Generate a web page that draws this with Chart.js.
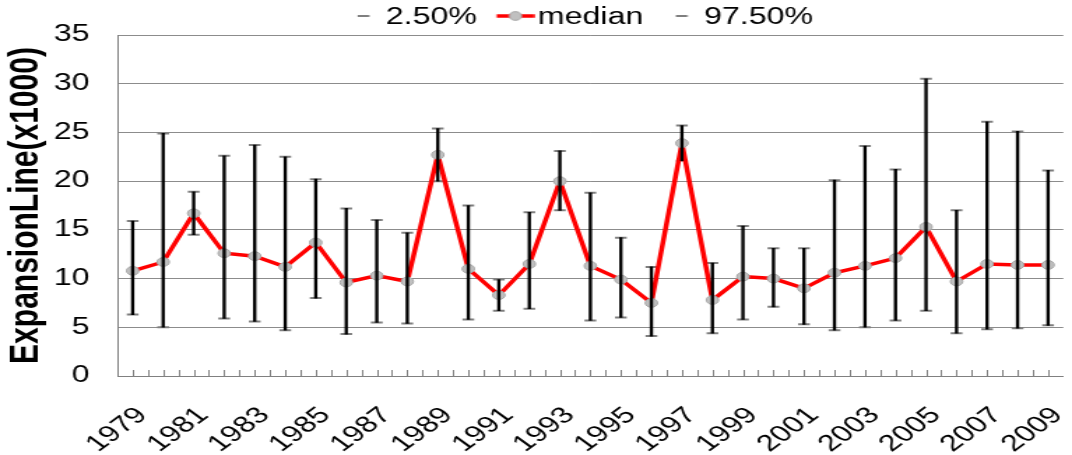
<!DOCTYPE html>
<html>
<head>
<meta charset="utf-8">
<script src="https://cdn.jsdelivr.net/npm/chart.js@4.4.0/dist/chart.umd.min.js"></script>
<style>
  html, body { margin: 0; padding: 0; background: #fff; }
  /* the source picture is stretched sideways, so draw narrow and widen with css */
  #chart { display: block; width: 1072px !important; height: 455px !important; }
</style>
</head>
<body>
<canvas id="chart" width="767" height="455" style="width:1072px;height:455px"></canvas>
<script>
const years = [1979, 1980, 1981, 1982, 1983, 1984, 1985, 1986, 1987, 1988,
  1989, 1990, 1991, 1992, 1993, 1994, 1995, 1996, 1997, 1998,
  1999, 2000, 2001, 2002, 2003, 2004, 2005, 2006, 2007, 2008, 2009];

const low = [6.3, 5.0, 14.5, 5.9, 5.6, 4.7, 8.0, 4.3, 5.5, 5.4,
  20.0, 5.8, 6.7, 6.9, 17.0, 5.7, 6.0, 4.1, 22.1, 4.4,
  5.8, 7.1, 5.3, 4.7, 5.0, 5.7, 6.7, 4.4, 4.8, 4.9, 5.2];

const median = [10.8, 11.7, 16.7, 12.6, 12.3, 11.2, 13.7, 9.6, 10.3, 9.7,
  22.7, 11.0, 8.3, 11.5, 20.0, 11.3, 9.9, 7.5, 23.9, 7.8,
  10.2, 10.0, 9.0, 10.6, 11.3, 12.1, 15.3, 9.7, 11.5, 11.4, 11.4];

const high = [15.9, 24.9, 18.9, 22.6, 23.7, 22.5, 20.2, 17.2, 16.0, 14.7,
  25.4, 17.5, 9.9, 16.8, 23.1, 18.8, 14.2, 11.2, 25.7, 11.6,
  15.4, 13.1, 13.1, 20.1, 23.6, 21.2, 30.5, 17.0, 26.1, 25.1, 21.1];

const yMin = 0;
const yMax = 35;
const yStep = 5;

const font = "'Liberation Sans', Arial, sans-serif";
const capGray = "#7f7f7f";

// legend marks are small canvases, mark sits right of the image centre
function legendMark(draw) {
  const c = document.createElement("canvas");
  c.width = 44;
  c.height = 16;
  const g = c.getContext("2d");
  g.translate(30.25, 6);
  draw(g);
  return c;
}

const capMark = legendMark((g) => {
  g.fillStyle = capGray;
  g.fillRect(-4.2, -1, 8.4, 2);
});

const medianMark = legendMark((g) => {
  g.strokeStyle = "#ff0000";
  g.lineWidth = 3.5;
  g.beginPath();
  g.moveTo(-13.5, 0);
  g.lineTo(13.5, 0);
  g.stroke();
  g.beginPath();
  g.arc(0, 0, 4.4, 0, Math.PI * 2);
  g.fillStyle = "#c0c0c0";
  g.fill();
  g.strokeStyle = "#a6a6a6";
  g.lineWidth = 1;
  g.stroke();
});

// little upward ticks on the category axis, at centres and between them
const axisTicks = {
  id: "axisTicks",
  beforeDatasetsDraw(chart) {
    const { ctx, chartArea, scales } = chart;
    const x = scales.x;
    const bottom = chartArea.bottom;
    ctx.save();
    ctx.strokeStyle = "#808080";
    ctx.lineWidth = 1;
    ctx.beginPath();
    for (let i = 0; i < years.length; i++) {
      const px = Math.round(x.getPixelForValue(i)) + 0.5;
      ctx.moveTo(px, bottom);
      ctx.lineTo(px, bottom - 6);
      if (i < years.length - 1) {
        const mid = Math.round((x.getPixelForValue(i) + x.getPixelForValue(i + 1)) / 2) + 0.5;
        ctx.moveTo(mid, bottom);
        ctx.lineTo(mid, bottom - 6);
      }
    }
    ctx.stroke();
    ctx.restore();
  }
};

const legendShift = {
  id: "legendShift",
  afterLayout(chart) {
    chart.legend.left -= 12;
    chart.legend.right -= 12;
  }
};

new Chart(document.getElementById("chart"), {
  type: "line",
  data: {
    labels: years,
    datasets: [
      {
        label: "2.50%",
        data: low,
        showLine: false,
        pointStyle: "line",
        pointRadius: 4.2,
        pointBorderColor: capGray,
        pointBorderWidth: 2,
        order: 2
      },
      {
        label: "median",
        data: median,
        borderColor: "#ff0000",
        borderWidth: 3.5,
        tension: 0,
        pointRadius: 4.4,
        pointBackgroundColor: "#c0c0c0",
        pointBorderColor: "#a6a6a6",
        pointBorderWidth: 1,
        order: 1
      },
      {
        label: "97.50%",
        data: high,
        showLine: false,
        pointStyle: "line",
        pointRadius: 4.2,
        pointBorderColor: capGray,
        pointBorderWidth: 2,
        order: 3
      },
      {
        type: "bar",
        data: years.map((_, i) => [low[i], high[i]]),
        backgroundColor: "#000",
        barThickness: 1.7,
        order: 0
      }
    ]
  },
  options: {
    responsive: false,
    animation: false,
    devicePixelRatio: 1,
    events: [],
    layout: { padding: 0 },
    plugins: {
      tooltip: { enabled: false },
      legend: {
        position: "top",
        fullSize: false,
        maxHeight: 35,
        labels: {
          usePointStyle: true,
          pointStyleWidth: 25.5,
          padding: 6.5,
          color: "#000",
          font: { family: font, size: 23 },
          generateLabels: (chart) =>
            chart.data.datasets
              .map((ds, i) => ({
                text: ds.label,
                datasetIndex: i,
                pointStyle: ds.label === "median" ? medianMark : capMark,
                fontColor: "#000",
                hidden: false,
                lineWidth: 0
              }))
              .filter((item) => item.text)
        }
      }
    },
    scales: {
      x: {
        offset: true,
        grid: { display: false, drawTicks: false },
        border: { color: "#808080", width: 1 },
        ticks: {
          autoSkip: false,
          minRotation: 45,
          maxRotation: 45,
          padding: 26,
          labelOffset: 7,
          color: "#000",
          font: { family: font, size: 23 },
          callback: (value, index) => (index % 2 === 0 ? String(years[index]) : "")
        },
        afterFit: (scale) => {
          scale.height = 79;
          scale.paddingLeft = 0;
          scale.paddingRight = 0;
        }
      },
      y: {
        min: yMin,
        max: yMax,
        grid: { color: "#8c8c8c", drawTicks: false },
        border: { color: "#808080", width: 1 },
        ticks: {
          stepSize: yStep,
          padding: 20,
          color: "#000",
          font: { family: font, size: 23 }
        },
        title: {
          display: true,
          text: "ExpansionLine(x1000)",
          color: "#000",
          font: { family: font, size: 30, weight: "bold" },
          padding: { top: 1, bottom: 0 }
        },
        afterFit: (scale) => {
          scale.width = 84;
        }
      }
    }
  },
  plugins: [axisTicks, legendShift]
});
</script>
</body>
</html>
